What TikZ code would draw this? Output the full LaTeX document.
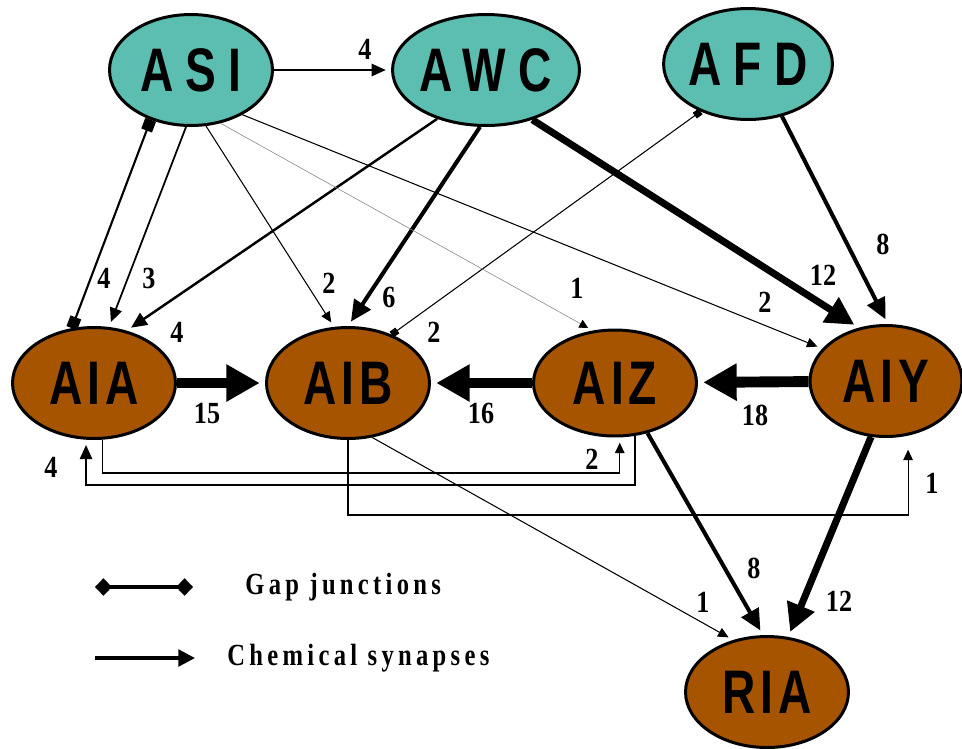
\documentclass[tikz,border=0pt]{standalone}
\usepackage{fontspec}
\setmainfont{Liberation Serif}
\newfontfamily\cellfam{Liberation Sans}[FakeStretch=0.75,LetterSpace=8]
\newfontfamily\senfam{Liberation Sans}[FakeStretch=0.75,LetterSpace=20]
\newfontfamily\numfam{Liberation Serif}[FakeStretch=0.85]
\newfontfamily\keyfam{Liberation Serif}[FakeStretch=0.8,LetterSpace=14]
\usetikzlibrary{arrows.meta,shapes.geometric}
\definecolor{sensory}{RGB}{91,190,176}
\definecolor{inter}{RGB}{166,84,0}

\begin{document}
\begin{tikzpicture}[x=0.02cm, y=-0.02cm,
  cell/.style={ellipse, draw, line width=1.7pt, minimum width=3.26cm, minimum height=2.22cm, inner sep=0pt},
  sen/.style={cell, fill=sensory, font=\fontsize{35}{40}\selectfont\senfam\bfseries},
  int/.style={cell, fill=inter, font=\fontsize{35}{40}\selectfont\cellfam\bfseries},
  num/.style={font=\fontsize{17.5}{20}\selectfont\numfam\bfseries, inner sep=0pt},
  key/.style={font=\fontsize{17.5}{20}\selectfont\keyfam\bfseries, anchor=west, inner sep=0pt},
  syn/.style={shorten >=3pt},
  s0/.style={syn, line width=0.35pt, draw=black!45, -{Triangle[length=5pt,width=5pt,fill=black,color=black]}},
  s1/.style={syn, line width=0.6pt, -{Triangle[length=6pt,width=5.5pt]}},
  s2/.style={syn, line width=1pt, -{Triangle[length=8pt,width=7pt]}},
  s3/.style={syn, line width=1.4pt, -{Triangle[length=9pt,width=8pt]}},
  s4/.style={syn, line width=2.3pt, -{Triangle[length=12pt,width=11pt]}},
  s7/.style={syn, line width=4pt, -{Triangle[length=16pt,width=16pt]}},
  s11/.style={syn, line width=6.2pt, -{Triangle[length=19pt,width=20pt]}},
  gap/.style={line width=1.2pt, {Square[length=6.5pt,width=6.5pt]}-{Square[length=6.5pt,width=6.5pt]}},
  gap1/.style={line width=0.6pt, {Square[length=4pt,width=4pt]}-{Square[length=4pt,width=4pt]}},
  keygap/.style={line width=2.2pt, {Diamond[length=9.6pt,width=10pt]}-{Diamond[length=9.6pt,width=10pt]}},
  keysyn/.style={line width=2pt, -{Triangle[length=9.5pt,width=9.5pt]}}]
  \useasboundingbox (0,0) rectangle (962,748);

  % sensory neurons
  \node[sen] (ASI) at (191,70) {ASI};
  \node[sen, minimum width=3.5cm] (AWC) at (486,70) {AWC};
  \node[sen] (AFD) at (748,64) {AFD};
  % interneurons
  \node[int] (AIA) at (94,383) {AIA};
  \node[int] (AIB) at (348,383) {AIB};
  \node[int, minimum height=2.12cm] (AIZ) at (615,383) {AIZ};
  \node[int, minimum width=3.04cm] (AIY) at (886,381) {AIY};
  \node[int] (RIA) at (767,692) {RIA};

  % from the sensory row
  \draw[s2] (ASI) -- (AWC);
  \node[num] (wASIAWC) at (365,49) {4};
  \draw[gap] (ASI.-129) -- (AIA.112);
  \node[num] (wASIAIAg) at (104,278) {4};
  \draw[s2] (ASI.-95) -- (AIA.75);
  \node[num] (wASIAIA) at (149,278) {3};
  \draw[s3] (AWC.-135) -- (AIA.58);
  \node[num] (wAWCAIA) at (177,332) {4};
  \draw[s1] (ASI.-75) -- (AIB.104);
  \node[num] (wASIAIB) at (329,283) {2};
  \draw[s4] (AWC.-96) -- (AIB.90);
  \node[num] (wAWCAIB) at (389,297) {6};
  \draw[gap1] (AFD.-135) -- (AIB.48);
  \node[num] (wAFDAIB) at (434,332) {2};
  \draw[s0] (ASI.-61) -- (AIZ.113);
  \node[num] (wASIAIZ) at (577,288) {1};
  \draw[s1] (ASI.-41) -- (AIY.153);
  \node[num] (wASIAIY) at (765,302) {2};
  \draw[s7] (AWC.-47) -- (AIY.117);
  \node[num] (wAWCAIY) at (823,275) {12};
  \draw[s4] (AFD.-57) -- (AIY.88);
  \node[num] (wAFDAIY) at (883,244) {8};

  % along the interneuron row
  \draw[s11] (AIA) -- (AIB);
  \node[num] (wAIAAIB) at (207,413) {15};
  \draw[s11] (AIZ) -- (AIB);
  \node[num] (wAIZAIB) at (481,413) {16};
  \draw[s11] (AIY) -- (AIZ);
  \node[num] (wAIYAIZ) at (755,415) {18};

  % routed below the row
  \coordinate (busA) at (0,485);
  \coordinate (busB) at (0,473);
  \coordinate (busC) at (0,515);
  \draw[s2] (AIZ.-69) -- (AIZ.-69 |- busA) -| (AIA.-98);
  \node[num] (wAIZAIA) at (51,467) {4};
  \draw[s1] (AIA.-81) -- (AIA.-81 |- busB) -| (AIZ.-85);
  \node[num] (wAIAAIZ) at (592,459) {2};
  \draw[s1, shorten >=8pt] (AIB.south) -- (AIB.south |- busC) -| (AIY.-68);
  \node[num] (wAIBAIY) at (932,483) {1};

  % into RIA
  \draw[s1] (AIB.-66) -- (RIA.123);
  \node[num] (wAIBRIA) at (703,602) {1};
  \draw[s4] (AIZ.-57) -- (RIA.94);
  \node[num] (wAIZRIA) at (754,568) {8};
  \draw[s7] (AIY.-105) -- (RIA.69);
  \node[num] (wAIYRIA) at (839,601) {12};

  % key
  \coordinate (gapL) at (95,587);
  \coordinate (gapR) at (193,587);
  \draw[keygap] (gapL) -- (gapR);
  \node[key] (gaptext) at (245,587) {Gap junctions};
  \coordinate (synL) at (95,658);
  \coordinate (synR) at (195,658);
  \draw[keysyn] (synL) -- (synR);
  \node[key] (syntext) at (227,658) {Chemical synapses};
\end{tikzpicture}
\end{document}
